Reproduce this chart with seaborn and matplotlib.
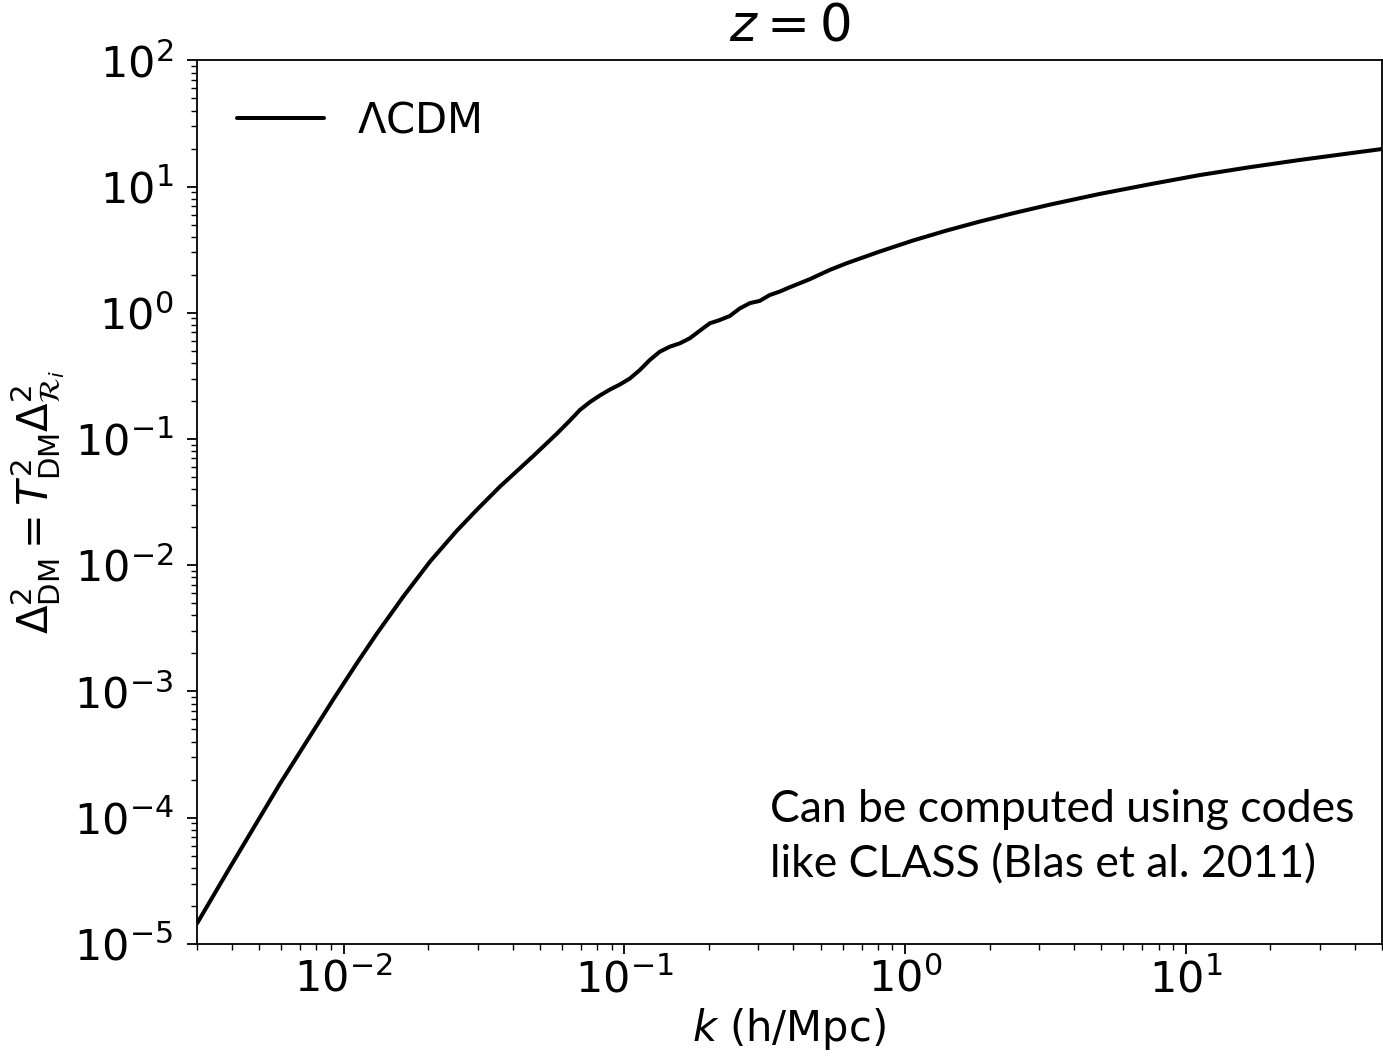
import numpy as np
import pandas as pd
import matplotlib
matplotlib.use("Agg")
import matplotlib.pyplot as plt
import seaborn as sns

# Dimensionless dark-matter power spectrum at z = 0 (LambdaCDM)
k_vals = [0.003003, 0.003945, 0.005943, 0.00920, 0.01114, 0.01313, 0.01632,
          0.02032, 0.02528, 0.02979, 0.03604, 0.04736, 0.05738, 0.0640,
          0.0694, 0.0754, 0.0818, 0.0888, 0.0964, 0.1046, 0.1136, 0.1232,
          0.1337, 0.1452, 0.1576, 0.1710, 0.1857, 0.2015, 0.2187, 0.2374,
          0.2576, 0.2796, 0.3034, 0.3294, 0.3575, 0.388, 0.421, 0.457,
          0.5386, 0.6175, 0.8114, 1.066, 1.402, 1.841, 2.419, 3.268, 4.922,
          7.417, 11.17, 16.83, 25.35, 38.2, 49.9]
delta2_vals = [1.45e-5, 4.07e-5, 1.87e-4, 8.69e-4, 1.67e-3, 2.87e-3, 5.65e-3,
               1.07e-2, 1.87e-2, 2.74e-2, 4.19e-2, 7.32e-2, 0.1097, 0.140,
               0.1694, 0.196, 0.221, 0.246, 0.270, 0.301, 0.352, 0.422,
               0.491, 0.538, 0.572, 0.627, 0.720, 0.824, 0.875, 0.942,
               1.08, 1.19, 1.24, 1.38, 1.47, 1.59, 1.71, 1.84,
               2.18, 2.46, 3.05, 3.73, 4.47, 5.27, 6.13, 7.17, 8.72,
               10.4, 12.3, 14.2, 16.2, 18.3, 19.8]
series_label = r"$\Lambda$CDM"

x_ticks = [1e-2, 1e-1, 1e0, 1e1]
y_ticks = [1e-5, 1e-4, 1e-3, 1e-2, 1e-1, 1e0, 1e1, 1e2]

note_lines = ["Can be computed using codes", "like CLASS (Blas et al. 2011)"]

df = pd.DataFrame({"k": k_vals, "delta2": delta2_vals, "model": series_label})

sns.set_style("ticks")
plt.rcParams["font.family"] = ["DejaVu Sans"]
plt.rcParams["mathtext.fontset"] = "dejavusans"
for key in ["text.color", "axes.labelcolor", "xtick.color", "ytick.color",
            "axes.edgecolor"]:
    plt.rcParams[key] = "black"

fig = plt.figure(figsize=(13.83, 10.58), dpi=100)
ax = fig.add_axes([0.1424, 0.108, 0.8568, 0.835])

sns.lineplot(data=df, x="k", y="delta2", hue="model", palette=["black"],
             linewidth=2.9, ax=ax, sort=True)

ax.set_xscale("log")
ax.set_yscale("log")
ax.set_xlim(0.003, 50)
ax.set_ylim(1e-5, 1e2)
ax.set_xticks(x_ticks)
ax.set_yticks(y_ticks)

ax.tick_params(axis="both", which="major", labelsize=31, length=7, width=1.3,
               direction="out", color="black", labelcolor="black")
ax.tick_params(axis="y", which="major", pad=10)
ax.tick_params(axis="both", which="minor", length=4, width=1.0,
               direction="out", color="black")
for sp in ax.spines.values():
    sp.set_linewidth(1.3)
    sp.set_color("black")

ax.set_xlabel(r"$k$ (h/Mpc)", fontsize=30, labelpad=4)
ax.set_ylabel(r"$\Delta^2_{\rm DM} = T^2_{\rm DM}\Delta^2_{\mathcal{R}_i}$",
              fontsize=30, labelpad=5)
ax.set_title(r"$z = 0$", fontsize=37, pad=14)

leg = ax.legend(loc="upper left", frameon=False, fontsize=30,
                handlelength=2.1, borderaxespad=0.55)

for text, yfrac in zip(note_lines, [0.1378, 0.0755]):
    ax.text(0.4833, yfrac, text, transform=ax.transAxes, fontsize=32,
            family=["Lato", "DejaVu Sans"], ha="left", va="baseline",
            color="black")

fig.savefig("out.png", dpi=100)
